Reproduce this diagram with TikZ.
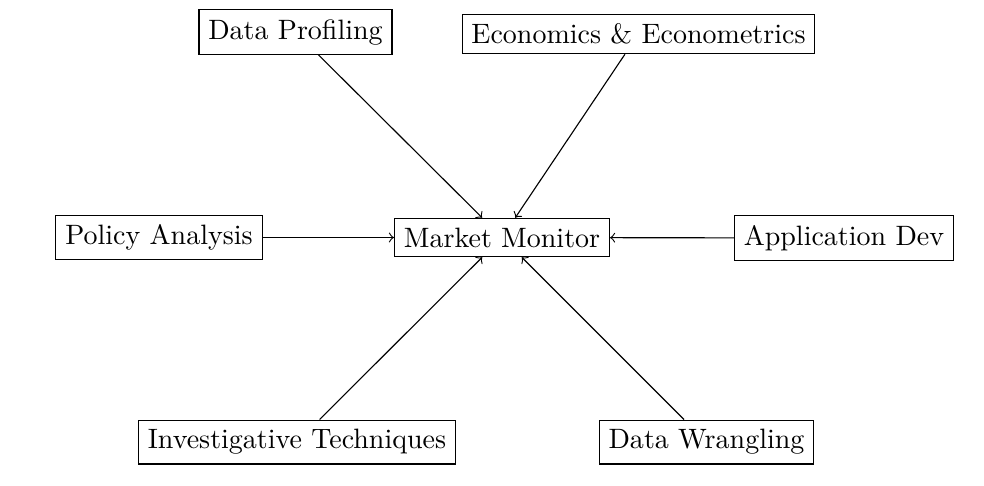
\documentclass[tikz,border=0pt]{standalone}

\tikzset{every picture/.style={line width=0.4pt}}
\tikzset{topic/.style={draw, rectangle, inner sep=0.3333em}}

\begin{document}
\begin{tikzpicture}[x=0.357pt,y=0.357pt,yscale=-1,xscale=1]
	\useasboundingbox (0,0) rectangle (984,485);

	% Centre node
	\node[topic] (monitor) at (502,237.5) {Market Monitor};

	% Outer nodes
	\node[topic] (profiling) at (295.5,32) {Data Profiling};
	\node[topic] (econ) at (638.5,34) {Economics \& Econometrics};
	\node[topic] (policy) at (159,237.5) {Policy Analysis};
	\node[topic] (appdev) at (844,238) {Application Dev};
	\node[topic] (investig) at (297,442) {Investigative Techniques};
	\node[topic] (wrangling) at (706.5,442) {Data Wrangling};

	% Connectors
	\draw[->] (profiling) -- (monitor);
	\draw[->] (econ) -- (monitor);
	\draw[->] (policy) -- (monitor);
	\draw[->] (appdev) -- (monitor);
	\draw[->] (investig) -- (monitor);
	\draw[->] (wrangling) -- (monitor);

\end{tikzpicture}
\end{document}
